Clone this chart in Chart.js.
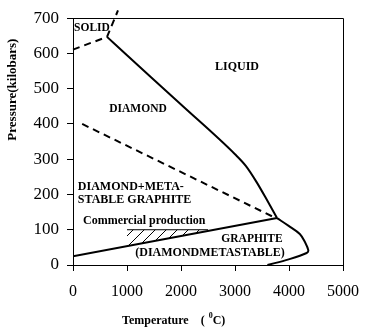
<!DOCTYPE html>
<html>
<head>
<meta charset="utf-8">
<script src="https://cdn.jsdelivr.net/npm/chart.js@4/dist/chart.umd.min.js"></script>
<style>
  html, body { margin: 0; padding: 0; background: #fff; }
  canvas { display: block; }
</style>
</head>
<body>
<canvas id="c" width="372" height="330"></canvas>
<script>
// ---- data (temperature in °C, pressure in kilobars) ----
const tickTemps = [0, 1000, 2000, 3000, 4000, 5000];
const tickPressures = [0, 100, 200, 300, 400, 500, 600, 700];

const liquidusT = [630, 1000, 2000, 3000, 3200, 3400, 3600, 3778];
const liquidusP = [647, 595, 455, 314, 281, 235, 182, 133];

const solidBoundaryT = [0, 630, 833];
const solidBoundaryP = [611, 647, 722];

const metastableT = [170, 3700];
const metastableP = [400, 137];

const graphiteDiamondT = [0, 3778];
const graphiteDiamondP = [25, 133];

const graphiteLiquidT = [3778, 3994, 4200, 4296, 4357, 4327, 3994, 3600];
const graphiteLiquidP = [133, 111, 88, 65, 42, 34, 16, 0];

const commercialT = [1000, 2500];
const commercialTopP = [100, 100];
const commercialLowP = [54, 96];

const regionLabels = ['SOLID', 'LIQUID', 'DIAMOND', 'DIAMOND+META-', 'STABLE GRAPHITE',
  'Commercial production', 'GRAPHITE', '(DIAMONDMETASTABLE)'];
const xTitle = 'Temperature';
const yTitle = 'Pressure(kilobars)';

// ---- helpers ----
const pts = (xs, ys) => xs.map((x, i) => ({ x, y: ys[i] }));

function hatchPattern() {
  const s = 11;
  const c = document.createElement('canvas');
  c.width = s; c.height = s;
  const g = c.getContext('2d');
  g.strokeStyle = '#000';
  g.lineWidth = 1;
  g.beginPath();
  g.moveTo(0, s); g.lineTo(s, 0);
  g.moveTo(-2, 2); g.lineTo(2, -2);
  g.moveTo(s - 2, s + 2); g.lineTo(s + 2, s - 2);
  g.stroke();
  return g.createPattern(c, 'repeat');
}

const SERIF = '"Liberation Serif", "Times New Roman", serif';

const annotationPlugin = {
  id: 'annot',
  afterDatasetsDraw(chart, args, opts) {
    const ctx = chart.ctx;
    const xs = chart.scales.x, ys = chart.scales.y;
    const a = chart.chartArea;
    ctx.save();
    // box top & right
    ctx.strokeStyle = '#000';
    ctx.lineWidth = 1;
    ctx.beginPath();
    ctx.moveTo(Math.round(a.left) + 0.5, Math.round(a.top) + 0.5);
    ctx.lineTo(Math.round(a.right) + 0.5, Math.round(a.top) + 0.5);
    ctx.lineTo(Math.round(a.right) + 0.5, Math.round(a.bottom) + 0.5);
    ctx.stroke();
    // region labels
    ctx.fillStyle = '#000';
    ctx.textBaseline = 'middle';
    opts.anchors.forEach((an, i) => {
      ctx.font = 'bold ' + an.size + 'px ' + SERIF;
      ctx.textAlign = an.align;
      ctx.fillText(regionLabels[i], xs.getPixelForValue(an.t), ys.getPixelForValue(an.p));
    });
    // y title
    ctx.save();
    ctx.translate(13, (a.top + a.bottom) / 2 - 52);
    ctx.rotate(-Math.PI / 2);
    ctx.textAlign = 'center';
    ctx.font = 'bold 13px ' + SERIF;
    ctx.fillText(yTitle, 0, 0);
    ctx.restore();
    // x title with superscript
    const ty = 321;
    ctx.textAlign = 'left';
    ctx.font = 'bold 12px ' + SERIF;
    let x0 = 122;
    ctx.fillText(xTitle, x0, ty);
    x0 += ctx.measureText(xTitle).width + 12;
    ctx.fillText('(', x0, ty);
    x0 += ctx.measureText('(').width + 4;
    ctx.font = 'bold 8px ' + SERIF;
    ctx.fillText('0', x0, ty - 5);
    x0 += ctx.measureText('0').width;
    ctx.font = 'bold 12px ' + SERIF;
    ctx.fillText('C)', x0, ty);
    ctx.restore();
  }
};

const lineBase = { pointRadius: 0, borderColor: '#000', borderWidth: 2, fill: false, tension: 0 };

new Chart(document.getElementById('c'), {
  type: 'line',
  data: {
    datasets: [
      { ...lineBase, data: pts(commercialT, commercialTopP), borderWidth: 1, fill: '+1', backgroundColor: hatchPattern() },
      { ...lineBase, data: pts(commercialT, commercialLowP), borderWidth: 0 },
      { ...lineBase, data: pts(graphiteDiamondT, graphiteDiamondP) },
      { ...lineBase, data: pts(liquidusT, liquidusP), cubicInterpolationMode: 'monotone' },
      { ...lineBase, data: pts(graphiteLiquidT, graphiteLiquidP), tension: 0.35 },
      { ...lineBase, data: pts(solidBoundaryT, solidBoundaryP), borderDash: [7, 5], clip: false },
      { ...lineBase, data: pts(metastableT, metastableP), borderDash: [7, 5] }
    ]
  },
  options: {
    responsive: false,
    animation: false,
    devicePixelRatio: 1,
    layout: { padding: { top: 13, right: 29, left: 0, bottom: 0 } },
    plugins: {
      legend: { display: false },
      tooltip: { enabled: false },
      annot: {
        anchors: [
          { t: 20, p: 672, align: 'left', size: 11.5 },
          { t: 3037, p: 561, align: 'center', size: 12 },
          { t: 1204, p: 442, align: 'center', size: 11.5 },
          { t: 90, p: 222, align: 'left', size: 12 },
          { t: 90, p: 186, align: 'left', size: 12 },
          { t: 185, p: 125, align: 'left', size: 12 },
          { t: 3315, p: 75, align: 'center', size: 11.5 },
          { t: 2537, p: 33, align: 'center', size: 12 }
        ]
      }
    },
    scales: {
      x: {
        type: 'linear', min: 0, max: 5000,
        afterBuildTicks: s => { s.ticks = tickTemps.map(v => ({ value: v })); },
        afterFit: s => { s.height = 65; },
        ticks: { color: '#000', font: { family: SERIF, size: 16 }, padding: 11, maxRotation: 0, autoSkip: false,
                 callback: v => String(v) },
        grid: { drawOnChartArea: false, drawTicks: true, tickLength: 6, color: '#000', tickColor: '#000' },
        border: { display: true, color: '#000', width: 1 }
      },
      y: {
        type: 'linear', min: 0, max: 700,
        afterBuildTicks: s => { s.ticks = tickPressures.map(v => ({ value: v })); },
        afterFit: s => { s.width = 73; },
        ticks: { color: '#000', font: { family: SERIF, size: 17 }, padding: 8, autoSkip: false,
                 callback: v => String(v) },
        grid: { drawOnChartArea: false, drawTicks: true, tickLength: 6, color: '#000', tickColor: '#000' },
        border: { display: true, color: '#000', width: 1 }
      }
    }
  },
  plugins: [annotationPlugin]
});
</script>
</body>
</html>
